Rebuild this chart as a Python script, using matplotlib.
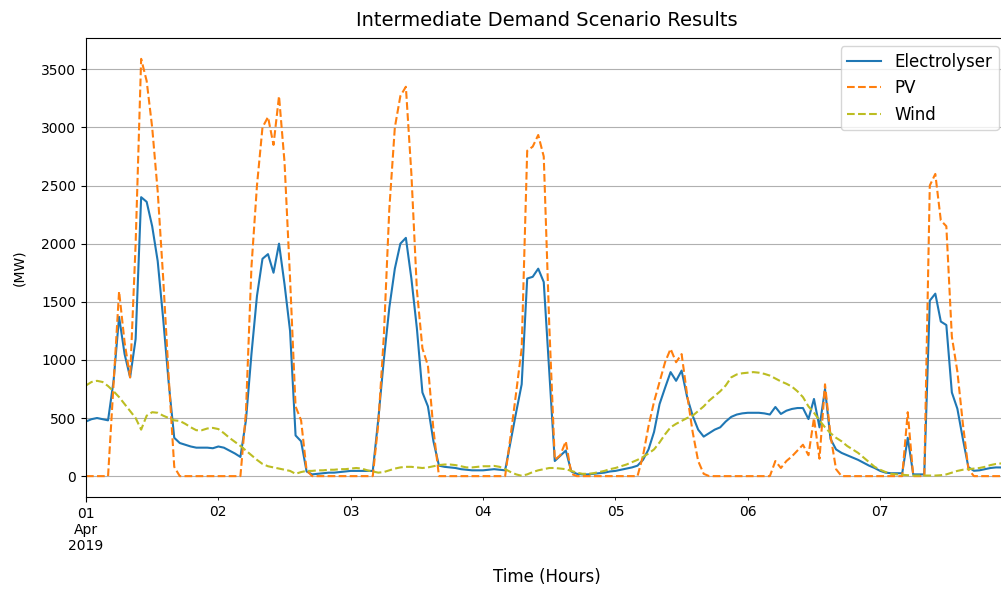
import matplotlib
matplotlib.use("Agg")
import matplotlib.pyplot as plt
import numpy as np
import pandas as pd

# hourly results, 1-7 April 2019 (MW)
electrolyser = [
    470, 490, 500, 490, 480, 820, 1370, 1050, 850, 1180, 2400, 2360,
    2150, 1850, 1350, 800, 330, 285, 270, 255, 245, 245, 245, 240,
    255, 245, 220, 195, 165, 480, 1050, 1550, 1870, 1910, 1750, 2000,
    1650, 1250, 350, 300, 40, 15, 20, 25, 30, 30, 35, 40,
    45, 45, 45, 45, 45, 490, 1000, 1450, 1785, 2000, 2050, 1700,
    1270, 720, 600, 300, 90, 80, 75, 70, 60, 55, 50, 50,
    50, 55, 60, 55, 50, 300, 550, 790, 1700, 1715, 1785, 1670,
    900, 130, 175, 220, 40, 20, 15, 15, 20, 25, 30, 40,
    45, 55, 65, 75, 90, 140, 230, 380, 620, 760, 895, 820,
    908, 680, 520, 400, 340, 370, 400, 420, 470, 510, 530, 540,
    545, 545, 545, 540, 530, 595, 535, 563, 578, 586, 586, 491,
    664, 420, 750, 320, 230, 200, 180, 160, 140, 115, 90, 70,
    45, 30, 25, 25, 25, 330, 15, 15, 15, 1510, 1570, 1330,
    1300, 720, 580, 320, 77, 46, 50, 60, 70, 75, 75, 70,
]
pv = [
    0, 0, 0, 0, 0, 790, 1590, 1150, 850, 2000, 3590, 3400,
    3000, 2450, 1700, 850, 80, 0, 0, 0, 0, 0, 0, 0,
    0, 0, 0, 0, 0, 550, 1800, 2500, 3000, 3090, 2850, 3270,
    2700, 1700, 600, 480, 50, 0, 0, 0, 0, 0, 0, 0,
    0, 0, 0, 0, 0, 450, 1200, 2300, 3000, 3270, 3350, 2600,
    1600, 1100, 950, 400, 0, 0, 0, 0, 0, 0, 0, 0,
    0, 0, 0, 0, 0, 350, 720, 1100, 2800, 2835, 2935, 2750,
    1300, 140, 180, 300, 20, 0, 0, 0, 0, 0, 0, 0,
    0, 0, 0, 0, 0, 175, 430, 640, 810, 980, 1095, 980,
    1050, 700, 380, 130, 20, 0, 0, 0, 0, 0, 0, 0,
    0, 0, 0, 0, 0, 130, 70, 130, 170, 220, 270, 180,
    500, 150, 790, 350, 60, 0, 0, 0, 0, 0, 0, 0,
    0, 0, 0, 0, 0, 550, 0, 0, 0, 2500, 2600, 2200,
    2150, 1200, 900, 450, 60, 0, 0, 0, 0, 0, 0, 0,
]
wind = [
    780, 810, 820, 810, 775, 730, 680, 620, 560, 500, 400, 520,
    550, 545, 520, 500, 480, 475, 450, 420, 395, 395, 410, 415,
    405, 370, 330, 295, 260, 220, 180, 140, 105, 85, 75, 65,
    55, 45, 20, 35, 45, 45, 50, 50, 55, 55, 60, 60,
    65, 70, 65, 50, 40, 30, 35, 50, 65, 75, 80, 80,
    75, 70, 75, 85, 95, 100, 100, 95, 85, 75, 75, 80,
    85, 85, 88, 80, 60, 35, 15, 3, 15, 35, 50, 60,
    70, 70, 65, 60, 45, 30, 20, 20, 25, 35, 45, 60,
    70, 85, 100, 120, 140, 165, 195, 230, 290, 360, 420, 450,
    475, 500, 520, 560, 600, 650, 690, 730, 780, 850, 875, 885,
    890, 895, 890, 880, 865, 840, 815, 795, 770, 730, 680, 600,
    545, 480, 420, 370, 330, 300, 260, 230, 200, 160, 120, 80,
    55, 35, 20, 15, 12, 8, 5, 5, 5, 5, 5, 8,
    15, 30, 45, 55, 60, 65, 70, 80, 95, 105, 110, 110,
]

idx = pd.date_range("2019-04-01", periods=len(electrolyser), freq="h")
df = pd.DataFrame({"Electrolyser": electrolyser, "PV": pv, "Wind": wind}, index=idx)

fig = plt.figure(figsize=(10.01, 5.91), dpi=100)
ax = fig.add_axes([86 / 1001, 94 / 591, 921 / 1001, 459 / 591])

df.plot(ax=ax, style=["-", "--", "--"], color=["tab:blue", "tab:orange", "tab:olive"])

ax.set_title("Intermediate Demand Scenario Results", fontsize=14, pad=9)
ax.set_xlabel("Time (Hours)", fontsize=12, labelpad=11)
ax.set_ylabel("(MW)", fontsize=10, labelpad=11)
ax.grid(axis="y")
ax.grid(axis="x", visible=False)
ax.legend(loc="upper right", fontsize=12)

fig.savefig("out.png", dpi=100)
